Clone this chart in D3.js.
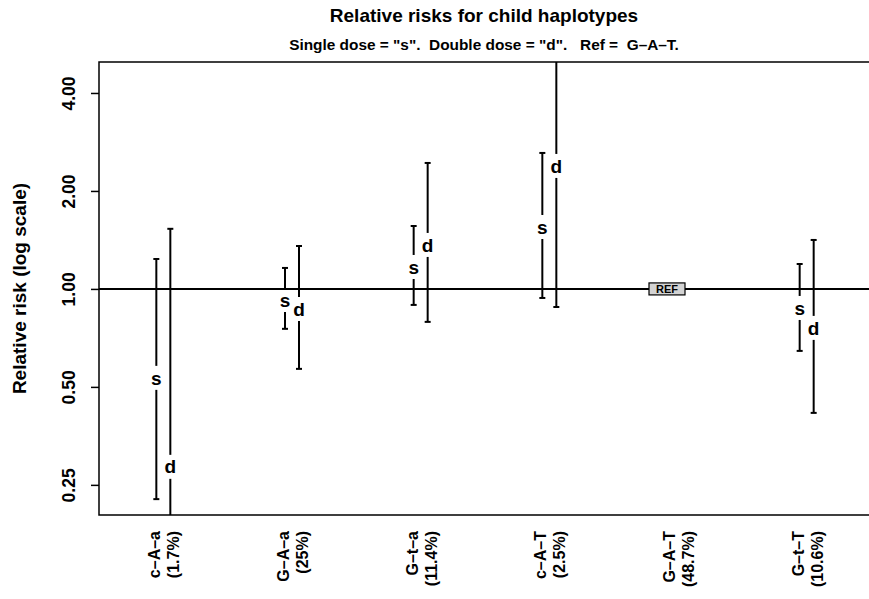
<!DOCTYPE html>
<html>
<head>
<meta charset="utf-8">
<script src="https://cdn.jsdelivr.net/npm/d3@7"></script>
<style>
  body { margin: 0; background: #fff; }
  text { font-family: "Liberation Sans", Arial, sans-serif; font-weight: bold; }
</style>
</head>
<body>
<div id="container"></div>
<script>
/* CONSTANTS AND GLOBALS */
const width = 869;
const height = 599;
const margin = { top: 62, right: -2, bottom: 84, left: 99 };

/* DATA */
const haplotypes = ["c\u2013A\u2013a", "G\u2013A\u2013a", "G\u2013t\u2013a", "c\u2013A\u2013T", "G\u2013A\u2013T", "G\u2013t\u2013T"];
const freqLabels = ["(1.7%)", "(25%)", "(11.4%)", "(2.5%)", "(48.7%)", "(10.6%)"];
const refIndex = 4;

// single dose ("s")
const singleEst = [0.533, 0.925, 1.168, 1.55, null, 0.874];
const singleLow = [0.226, 0.754, 0.893, 0.938, null, 0.645];
const singleHigh = [1.236, 1.16, 1.561, 2.617, null, 1.193];
// double dose ("d")
const doubleEst = [0.284, 0.868, 1.365, 2.387, null, 0.759];
const doubleLow = [0.10, 0.568, 0.792, 0.88, null, 0.416];
const doubleHigh = [1.53, 1.355, 2.438, 6.5, null, 1.414];

const yTicks = [0.25, 0.5, 1, 2, 4];

/* SVG */
const svg = d3.select("#container")
  .append("svg")
  .attr("width", width)
  .attr("height", height);

/* SCALES */
const xScale = d3.scaleLinear()
  .domain([-0.5, haplotypes.length - 0.5])
  .range([margin.left, width - margin.right]);

const yScale = d3.scaleLog()
  .base(2)
  .domain([0.202, 4.98])
  .range([height - margin.bottom, margin.top]);

const x0 = margin.left, x1 = width - margin.right;
const y0 = margin.top, y1 = height - margin.bottom;

svg.append("clipPath").attr("id", "plotclip")
  .append("rect")
  .attr("x", x0).attr("y", y0)
  .attr("width", x1 - x0).attr("height", y1 - y0);

/* TITLES */
svg.append("text")
  .attr("x", 484)
  .attr("y", 22)
  .attr("text-anchor", "middle")
  .style("font-size", "19px")
  .text("Relative risks for child haplotypes");

svg.append("text")
  .attr("x", 484)
  .attr("y", 50)
  .attr("text-anchor", "middle")
  .style("font-size", "15.4px")
  .attr("xml:space", "preserve")
  .text("Single dose = \"s\".  Double dose = \"d\".   Ref =  G\u2013A\u2013T.");

/* AXES */
const yAxis = d3.axisLeft(yScale)
  .tickValues(yTicks)
  .tickFormat(d3.format(".2f"))
  .tickSize(8)
  .tickPadding(0);

const gy = svg.append("g")
  .attr("transform", `translate(${x0}, 0)`)
  .call(yAxis);
gy.select(".domain").remove();
gy.selectAll(".tick line").attr("stroke", "#000").attr("stroke-width", 1.5);
gy.selectAll(".tick text")
  .attr("transform", "rotate(-90)")
  .attr("x", 0)
  .attr("y", -30)
  .attr("dy", "0.35em")
  .attr("text-anchor", "middle")
  .style("font-size", "17.5px")
  .attr("fill", "#000");

svg.append("text")
  .attr("transform", `translate(26, ${(y0 + y1) / 2}) rotate(-90)`)
  .attr("text-anchor", "middle")
  .style("font-size", "19px")
  .text("Relative risk (log scale)");

// x labels (two rotated lines)
const xl = svg.append("g").selectAll("g")
  .data(haplotypes)
  .join("g")
  .attr("transform", (d, i) => `translate(${xScale(i)}, 531) rotate(-90)`);
xl.append("text")
  .attr("text-anchor", "end")
  .attr("y", -3)
  .style("font-size", "16px")
  .text(d => d);
xl.append("text")
  .attr("text-anchor", "end")
  .attr("y", 16)
  .style("font-size", "16px")
  .text((d, i) => freqLabels[i]);

/* FRAME */
svg.append("path")
  .attr("d", `M${x1},${y0}H${x0}V${y1}H${x1}`)
  .attr("fill", "none")
  .attr("stroke", "#000")
  .attr("stroke-width", 1.5);

// reference line at 1
svg.append("line")
  .attr("x1", x0).attr("x2", x1)
  .attr("y1", yScale(1)).attr("y2", yScale(1))
  .attr("stroke", "#000")
  .attr("stroke-width", 2);

/* INTERVALS */
const series = [
  { letter: "s", off: -7, est: singleEst, low: singleLow, high: singleHigh },
  { letter: "d", off: 7, est: doubleEst, low: doubleLow, high: doubleHigh }
];

const plot = svg.append("g").attr("clip-path", "url(#plotclip)");
const gap = 12;

series.forEach(s => {
  const rows = haplotypes.map((h, i) => ({ i, est: s.est[i], low: s.low[i], high: s.high[i] }))
    .filter(d => d.est != null);

  const g = plot.append("g").selectAll("g")
    .data(rows)
    .join("g")
    .attr("transform", d => `translate(${xScale(d.i) + s.off}, 0)`);

  g.append("line")
    .attr("y1", d => yScale(d.high))
    .attr("y2", d => yScale(d.est) - gap)
    .attr("stroke", "#000").attr("stroke-width", 2);
  g.append("line")
    .attr("y1", d => yScale(d.est) + gap)
    .attr("y2", d => yScale(d.low))
    .attr("stroke", "#000").attr("stroke-width", 2);
  // caps
  g.append("line")
    .attr("x1", -3).attr("x2", 3)
    .attr("y1", d => yScale(d.high)).attr("y2", d => yScale(d.high))
    .attr("stroke", "#000").attr("stroke-width", 2);
  g.append("line")
    .attr("x1", -3).attr("x2", 3)
    .attr("y1", d => yScale(d.low)).attr("y2", d => yScale(d.low))
    .attr("stroke", "#000").attr("stroke-width", 2);

  g.append("text")
    .attr("y", d => yScale(d.est))
    .attr("dy", "0.35em")
    .attr("text-anchor", "middle")
    .style("font-size", "19px")
    .text(s.letter);
});

/* REF BOX */
const ref = svg.append("g")
  .attr("transform", `translate(${xScale(refIndex) - 11}, ${yScale(1)})`);
ref.append("rect")
  .attr("x", -18).attr("y", -6)
  .attr("width", 36).attr("height", 12)
  .attr("fill", "#d3d3d3")
  .attr("stroke", "#000")
  .attr("stroke-width", 1.2);
ref.append("text")
  .attr("dy", "0.36em")
  .attr("text-anchor", "middle")
  .style("font-size", "11px")
  .text("REF");
</script>
</body>
</html>
